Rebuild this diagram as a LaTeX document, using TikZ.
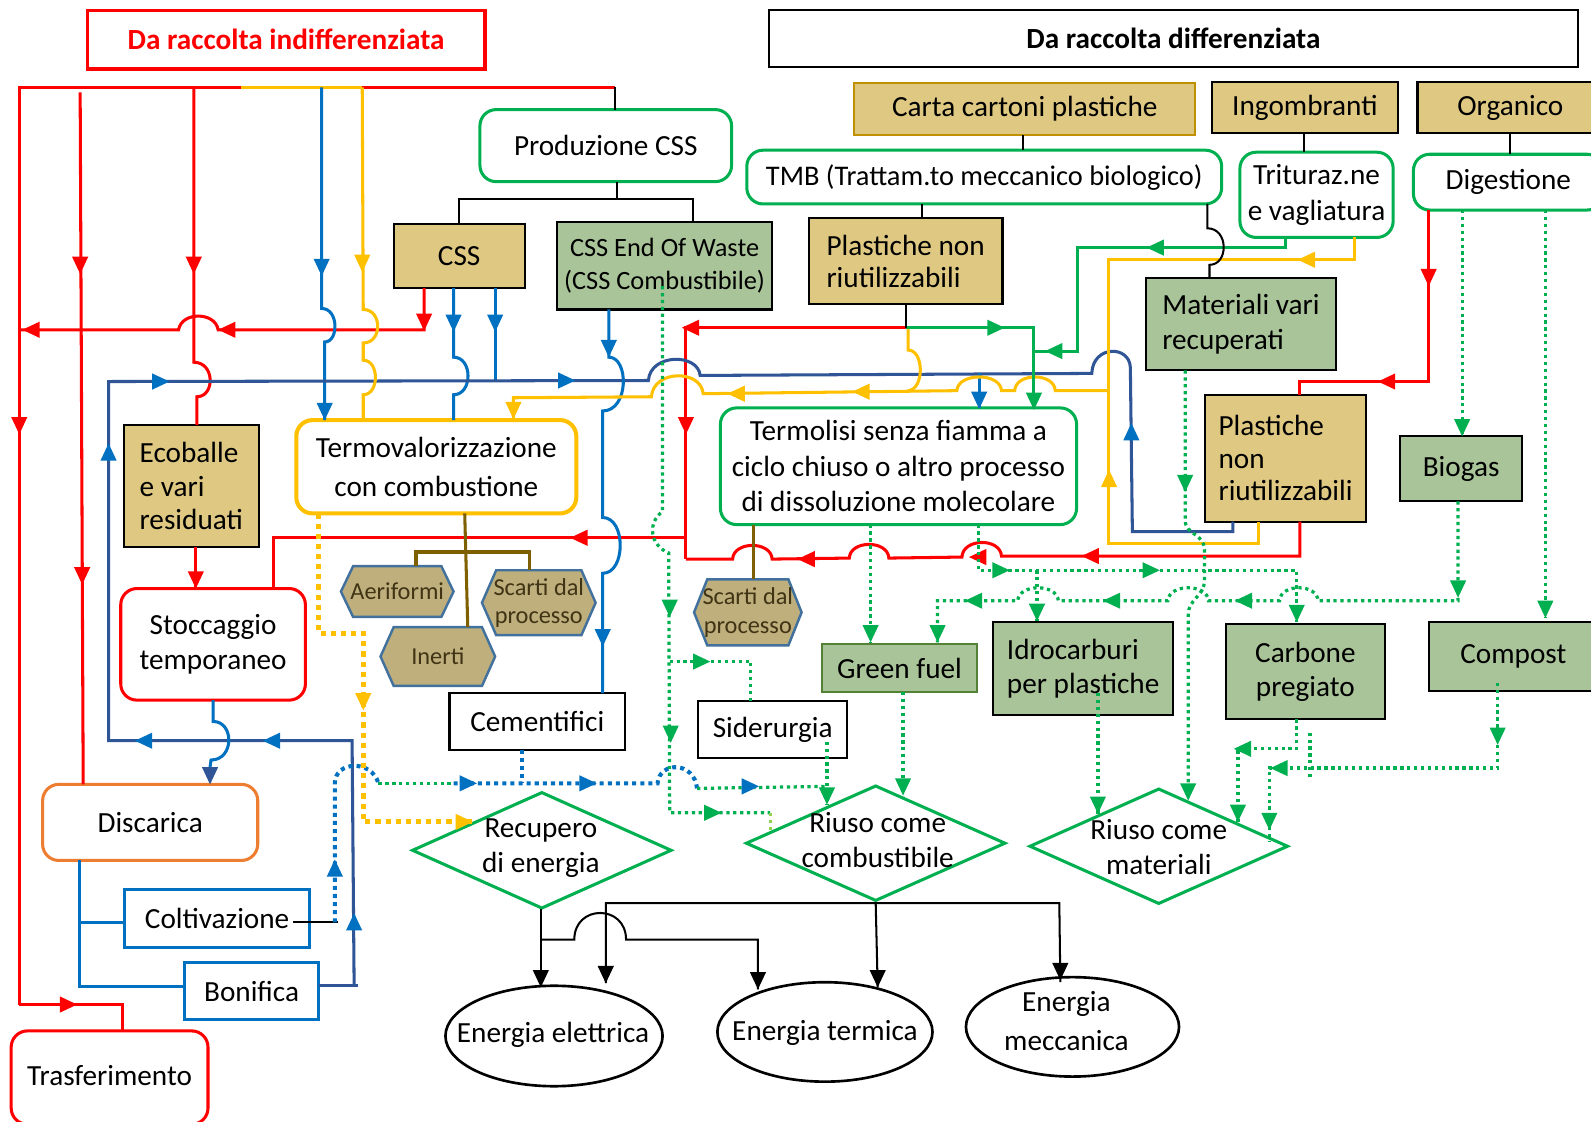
\documentclass[tikz,border=0pt]{standalone}
\usepackage{fontspec}
\setmainfont{Carlito}
\usetikzlibrary{arrows.meta,shapes.geometric}
\definecolor{rd}{RGB}{255,0,0}
\definecolor{yl}{RGB}{255,192,0}
\definecolor{bb}{RGB}{0,112,192}
\definecolor{db}{RGB}{47,85,151}
\definecolor{gr}{RGB}{0,176,80}
\definecolor{lg}{RGB}{146,208,80}
\definecolor{tanc}{RGB}{222,200,130}
\definecolor{sagec}{RGB}{169,196,153}
\definecolor{hexc}{RGB}{190,175,125}
\definecolor{hexb}{RGB}{65,113,156}
\definecolor{hext}{RGB}{64,52,20}
\definecolor{oliv}{RGB}{127,96,0}
\definecolor{orng}{RGB}{237,125,49}
\definecolor{gfb}{RGB}{84,130,53}
\definecolor{goldb}{RGB}{191,144,0}
\newcommand{\fs}[2]{\fontsize{#1}{#2}\selectfont}
\newcommand{\bx}[7]{\node[#2, minimum width={(#5-#3)*0.5pt}, minimum height={(#6-#4)*0.5pt}] (#1) at ({(#3+#5)/2},{(#4+#6)/2}) {#7};}
\newcommand{\tipD}[3]{\fill[#1] ({#2-8},{#3-17}) -- ({#2+8},{#3-17}) -- (#2,#3) -- cycle;}
\newcommand{\tipU}[3]{\fill[#1] ({#2-8},{#3+17}) -- ({#2+8},{#3+17}) -- (#2,#3) -- cycle;}
\newcommand{\tipL}[3]{\fill[#1] ({#2+17},{#3-8}) -- ({#2+17},{#3+8}) -- (#2,#3) -- cycle;}
\newcommand{\tipR}[3]{\fill[#1] ({#2-17},{#3-8}) -- ({#2-17},{#3+8}) -- (#2,#3) -- cycle;}
\newcommand{\hexa}[7]{\filldraw[fill=hexc, draw=hexb, line width=1.2pt] (#2,{(#3+#5)/2}) -- ({#2+#6},#3) -- ({#4-#6},#3) -- (#4,{(#3+#5)/2}) -- ({#4-#6},#5) -- ({#2+#6},#5) -- cycle;
\node[hextxt] (#1) at ({(#2+#4)/2},{(#3+#5)/2}) {#7};}
\tikzset{
 ln/.style={line width=1.5pt},
 R/.style={ln, draw=rd}, Y/.style={ln, draw=yl}, B/.style={ln, draw=bb},
 D/.style={ln, draw=db}, G/.style={ln, draw=gr}, K/.style={line width=1pt, draw=black},
 O/.style={ln, draw=oliv},
 GD/.style={draw=gr, line width=1.6pt, dash pattern=on 1.6pt off 1.8pt},
 BD/.style={draw=bb, line width=2pt, dash pattern=on 2pt off 2pt},
 YD/.style={draw=yl, line width=2.5pt, dash pattern=on 2.5pt off 2.5pt},
 txt/.style={font=\fs{14.4}{17.5}, inner sep=0pt, align=center, text=black},
 tanb/.style={txt, fill=tanc, draw=black, line width=1pt},
 sageb/.style={txt, fill=sagec, draw=black, line width=1pt},
 grr/.style={txt, fill=white, draw=gr, line width=1.5pt, rounded corners=8pt},
 kb/.style={txt, fill=white, draw=black, line width=1pt},
 blb/.style={txt, fill=white, draw=bb, line width=1.5pt},
 hextxt/.style={font=\fs{12}{14}, inner sep=0pt, align=center, text=hext},
 dia/.style={diamond, draw=gr, line width=1.5pt, fill=white, inner sep=0pt},
 ell/.style={ellipse, draw=black, line width=1.3pt, fill=white, inner sep=0pt},
}
\begin{document}
\begin{tikzpicture}[x=0.5pt,y=-0.5pt]
\useasboundingbox (0,0) rectangle (1568,1105);
\fill[white] (0,0) rectangle (1568,1105);

% ---------- nodes ----------
\bx{hdrL}{txt, draw=rd, line width=1.5pt, text=rd, font=\fs{14.4}{17}\bfseries}{86}{10}{478}{68}{Da raccolta indifferenziata}
\bx{hdrR}{txt, draw=black, line width=1pt, font=\fs{14.4}{17}\bfseries}{758}{10}{1555}{66}{Da raccolta differenziata}
\bx{carta}{tanb, draw=goldb}{842}{82}{1178}{133}{Carta cartoni plastiche}
\bx{ingom}{tanb}{1194}{81}{1378}{131}{Ingombranti}
\bx{organ}{tanb}{1397}{81}{1580}{131}{Organico}
\bx{prod}{grr}{473}{108}{721}{179}{Produzione CSS}
\bx{tmb}{grr, font=\fs{14}{17}}{736}{148}{1204}{201}{TMB (Trattam.to meccanico biologico)}
\bx{trit}{grr}{1222}{150}{1373}{234}{Trituraz.ne\\e vagliatura}
\bx{dig}{grr}{1393}{152}{1580}{207}{Digestione}
\bx{css}{tanb}{388}{221}{517}{284}{CSS}
\bx{cssew}{sageb, font=\fs{13}{16}}{549}{219}{761}{305}{CSS End Of Waste\\(CSS Combustibile)}
\bx{plast1}{tanb, align=left, font=\fs{14.4}{16}}{797}{215}{988}{300}{Plastiche non\\riutilizzabili}
\bx{mat}{sageb, align=left, font=\fs{14.4}{17}}{1129}{274}{1317}{365}{Materiali vari\\recuperati}
\bx{plast2}{tanb, align=left, font=\fs{14.4}{16}}{1188}{389}{1346}{514}{Plastiche\\non\\riutilizzabili}
\bx{biogas}{sageb}{1380}{430}{1500}{494}{Biogas}
\bx{ecob}{tanb, align=left, font=\fs{14.4}{16.5}}{122}{419}{255}{539}{Ecoballe\\e vari\\residuati}
\bx{termov}{txt, fill=white, draw=yl, line width=2pt, rounded corners=8pt, font=\fs{14.4}{19.5}}{292}{414}{568}{506}{Termovalorizzazione\\con combustione}
\bx{termol}{grr}{710}{402}{1061}{517}{Termolisi senza fiamma a\\ciclo chiuso o altro processo\\di dissoluzione molecolare}
\bx{stocc}{txt, fill=white, draw=rd, line width=1.5pt, rounded corners=8pt}{119}{580}{301}{690}{Stoccaggio\\temporaneo}
\bx{cem}{kb}{443}{683}{616}{739}{Cementifici}
\bx{sid}{kb}{688}{691}{835}{747}{Siderurgia}
\bx{gfuel}{sageb, draw=gfb}{810}{635}{963}{682}{Green fuel}
\bx{idro}{sageb, align=left, font=\fs{14.4}{16.5}}{979}{613}{1156}{705}{Idrocarburi\\per plastiche}
\bx{carb}{sageb, font=\fs{14.4}{16.5}}{1208}{615}{1365}{709}{Carbone\\pregiato}
\bx{comp}{sageb}{1408}{613}{1575}{681}{\raisebox{2pt}{Compost}}
\bx{disc}{txt, fill=white, draw=orng, line width=1.5pt, rounded corners=8pt}{42}{773}{254}{848}{Discarica}
\bx{colt}{blb}{123}{877}{305}{934}{Coltivazione}
\bx{bonif}{blb}{182}{949}{314}{1005}{Bonifica}
\bx{trasf}{txt, fill=white, draw=rd, line width=1.5pt, rounded corners=8pt}{11}{1016}{205}{1108}{\raisebox{2.5pt}{Trasferimento}}

\hexa{aerif}{336}{558}{447}{608}{12}{Aeriformi}
\hexa{scarti1}{475}{562}{587}{626}{14}{Scarti dal\\processo}
\hexa{inerti}{375}{618}{488}{676}{13}{Inerti}
\hexa{scarti2}{684}{571}{790}{636}{13}{Scarti dal\\processo}

\node[dia, minimum width=128pt, minimum height=57.5pt] (recup) at (534,838) {};
\node[txt] (recupT) at (533,836) {Recupero\\di energia};
\node[dia, minimum width=128pt, minimum height=57pt] (riusoc) at (863,831) {};
\node[txt, font=\fs{14.4}{17}] (riusocT) at (865,828) {Riuso come\\combustibile};
\node[dia, minimum width=127.5pt, minimum height=57pt] (riusom) at (1142,834) {};
\node[txt, font=\fs{14.4}{17}] (riusomT) at (1142,835) {Riuso come\\materiali};

\node[ell, minimum width=107pt, minimum height=49.5pt] (elet) at (546,1021) {};
\node[txt] (eletT) at (545,1020) {Energia elettrica};
\node[ell, minimum width=106pt, minimum height=49pt] (term) at (813,1017) {};
\node[txt] (termT) at (813,1018) {Energia termica};
\node[ell, minimum width=105pt, minimum height=49pt] (mecc) at (1057,1012) {};
\node[txt, font=\fs{14.4}{19}] (meccT) at (1051,1006) {Energia\\meccanica};

% ---------- red ----------
\draw[R] (19,990) -- (19,86) -- (606,86);
\draw[Y] (238,86) -- (357,86);
\draw[R] (79,91) -- (82,773);
\tipD{rd}{79}{270} \tipD{rd}{81}{576} \tipD{rd}{19}{428}
\draw[R] (19,990) -- (121,990) -- (121,1016);
\tipR{rd}{76}{990}
\draw[R] (191,86) -- (191,357) .. controls (212,357) and (212,391) .. (194,391) -- (194,419);
\tipD{rd}{191}{270}
\draw[R] (418,284) -- (418,325) -- (215,325) .. controls (212,307) and (179,307) .. (176,325) -- (19,325);
\tipD{rd}{418}{326} \tipL{rd}{215}{325} \tipL{rd}{22}{325}
\draw[R] (193,539) -- (193,580); \tipD{rd}{193}{580}
\draw[R] (893,323) -- (676,323) -- (676,551);
\tipL{rd}{672}{323} \tipD{rd}{676}{428}
\draw[R] (676,530) -- (270,530) -- (270,580);
\tipL{rd}{562}{530}
\draw[R] (1281,514) -- (1281,548) -- (987,548) .. controls (986,530) and (949,530) .. (948,549) -- (876,550) .. controls (875,532) and (838,532) .. (837,550) -- (761,551) .. controls (760,533) and (723,533) .. (722,551) -- (676,551);
\tipL{rd}{1066}{548} \tipL{rd}{955}{549} \tipL{rd}{786}{551}
\draw[R] (1408,207) -- (1408,376) -- (1281,376) -- (1281,389);
\tipD{rd}{1408}{282} \tipL{rd}{1358}{376}

% ---------- blue ----------
\draw[B] (317,86) -- (317,304) .. controls (334,304) and (334,337) .. (320,337) -- (320,414);
\tipD{bb}{317}{272} \tipD{bb}{320}{414}
\draw[B] (447,284) -- (447,352) .. controls (466,352) and (466,389) .. (447,389) -- (447,414);
\tipD{bb}{447}{327}
\draw[B] (488,284) -- (488,375); \tipD{bb}{488}{327}
\draw[D] (349,971) -- (347,730) -- (107,730) -- (107,376) -- (639,375) .. controls (641,348) and (688,348) .. (690,370) -- (1076,368) .. controls (1077,340) and (1113,340) .. (1114,362) -- (1116,524) -- (1215,524) -- (1215,514);
\draw[D] (314,971) -- (353,971);
\tipR{bb}{167}{376} \tipR{bb}{567}{375} \tipU{bb}{1115}{417} \tipU{bb}{107}{437}
\tipL{bb}{133}{730} \tipL{bb}{259}{730} \tipU{bb}{349}{900}
\draw[B] (600,305) -- (600,352) .. controls (620,352) and (620,405) .. (594,405) -- (594,510) .. controls (617,510) and (617,565) .. (594,565) -- (594,683);
\tipD{bb}{600}{352} \tipD{bb}{594}{637}
\draw[B] (965,368) -- (965,402); \tipD{bb}{965}{403}
\draw[B] (210,690) -- (210,711) .. controls (231,711) and (231,749) .. (208,749) -- (207,756);
\tipD{db}{207}{773}
\draw[B] (78,848) -- (78,972) -- (182,972);
\draw[B] (78,909) -- (123,909);
\draw[K] (289,909) -- (333,909);
\draw[BD] (330,909) -- (330,772) .. controls (330,750) and (366,748) .. (373,772);
\tipU{bb}{330}{847}
\draw[GD] (373,772) -- (447,772);
\draw[BD] (447,772) -- (648,772) .. controls (650,750) and (684,750) .. (687,777);
\draw[GD] (687,777) -- (815,775);
\draw[BD] (514,739) -- (514,772);
\tipR{bb}{470}{772} \tipR{bb}{588}{772} \tipR{bb}{748}{775}

% ---------- yellow ----------
\draw[YD] (314,506) -- (314,624) -- (358,624) -- (358,810) -- (466,810);
\tipD{yl}{358}{700} \tipR{yl}{466}{810}
\draw[Y] (357,86) -- (358,305) .. controls (377,305) and (377,338) .. (358,338) -- (358,355) .. controls (374,355) and (374,389) .. (358,389) -- (358,414);
\tipD{yl}{357}{268}
\draw[Y] (1335,234) -- (1335,256) -- (1092,256) -- (1092,536) -- (1240,536) -- (1240,514);
\tipL{yl}{1279}{256} \tipU{yl}{1093}{463}
\draw[Y] (1092,385) -- (1040,385) .. controls (1039,367) and (1001,367) .. (1000,385) -- (987,385) .. controls (986,367) and (944,367) .. (943,385) -- (693,388) .. controls (691,364) and (644,364) .. (642,391) -- (506,392) -- (506,414);
\tipL{yl}{840}{386} \tipL{yl}{717}{388} \tipD{yl}{506}{413}
\draw[Y] (895,323) -- (895,345) .. controls (911,345) and (911,384) .. (895,385);

% ---------- green solid ----------
\draw[G] (893,323) -- (1019,323) -- (1019,402);
\tipR{gr}{990}{323} \tipD{gr}{1019}{404}
\draw[G] (1267,234) -- (1267,244) -- (1062,244) -- (1062,346) -- (1019,346);
\tipL{gr}{1130}{244} \tipL{gr}{1030}{346}

% ---------- black ----------
\draw[K] (1190,201) -- (1190,225) .. controls (1211,225) and (1211,261) .. (1192,261) -- (1192,274);
\draw[K] (1008,133) -- (1008,148);
\draw[K] (1285,131) -- (1285,150);
\draw[K] (1488,131) -- (1488,152);
\draw[K] (909,201) -- (909,215);
\draw[K] (893,300) -- (893,323);
\draw[K] (606,86) -- (606,108);
\draw[K] (608,179) -- (608,196);
\draw[K] (452,221) -- (452,196) -- (683,196) -- (683,219);

% ---------- olive ----------
\draw[O] (458,506) -- (461,618);
\draw[O] (410,558) -- (410,544) -- (522,544) -- (522,562);
\draw[O] (743,517) -- (743,571);

% ---------- green dotted ----------
\draw[GD] (653,282) -- (653,504) .. controls (638,515) and (640,537) .. (659,545) -- (660,801) -- (759,801);
\draw[GD, draw=lg] (759,801) -- (759,821);
\tipD{gr}{660}{608} \tipD{gr}{661}{732} \tipR{gr}{711}{801}
\draw[GD] (660,652) -- (740,652) -- (740,691);
\tipR{gr}{700}{652}
\draw[GD] (815,731) -- (815,793); \tipD{gr}{815}{793}
\draw[GD] (858,517) -- (858,633); \tipD{gr}{858}{633}
\draw[GD] (964,517) -- (964,562) -- (1278,562) -- (1278,613);
\tipR{gr}{995}{562} \tipR{gr}{1143}{562} \tipD{gr}{1278}{613}
\draw[GD] (1022,562) -- (1022,612); \tipD{gr}{1022}{612}
\draw[GD] (1437,494) -- (1437,592) -- (1299,592) .. controls (1298,575) and (1262,575) .. (1261,592) -- (1191,592) .. controls (1190,575) and (1152,575) .. (1151,592) -- (1043,592) .. controls (1042,575) and (1004,575) .. (1003,592) -- (924,592) -- (924,633);
\tipD{gr}{1437}{589} \tipL{gr}{1217}{592} \tipL{gr}{1087}{592} \tipL{gr}{951}{592} \tipD{gr}{924}{633}
\draw[GD] (1168,365) -- (1168,512) .. controls (1168,528) and (1187,525) .. (1187,542) -- (1187,572) .. controls (1187,588) and (1171,590) .. (1171,606) -- (1171,788);
\tipD{gr}{1168}{485} \tipD{gr}{1171}{789}
\draw[GD] (1441,207) -- (1441,430); \tipD{gr}{1441}{430}
\draw[GD] (1523,207) -- (1523,609); \tipD{gr}{1523}{609}
\draw[GD] (890,682) -- (890,784); \tipD{gr}{890}{784}
\draw[GD] (1082,683) -- (1082,802); \tipD{gr}{1082}{802}
\draw[GD] (1278,709) -- (1278,738) -- (1220,738) -- (1220,810);
\tipL{gr}{1216}{738} \tipD{gr}{1220}{810}
\draw[GD] (1291,722) -- (1291,766);
\draw[GD] (1476,673) -- (1476,757) -- (1251,757) -- (1251,830);
\tipD{gr}{1476}{734} \tipL{gr}{1252}{757} \tipD{gr}{1251}{818}

% ---------- energy outputs ----------
\draw[K, line width=1.2pt] (533,896) -- (533,973);
\draw[K] (533,926) -- (566,926) .. controls (566,891) and (617,891) .. (617,926) -- (747,926) -- (747,975);
\draw[K] (597,969) -- (597,890) -- (1044,890) -- (1045,968);
\draw[K] (863,889) -- (865,973);
\tipD{black}{533}{973} \tipD{black}{597}{969} \tipD{black}{747}{975} \tipD{black}{865}{973} \tipD{black}{1045}{966}
\end{tikzpicture}
\end{document}
